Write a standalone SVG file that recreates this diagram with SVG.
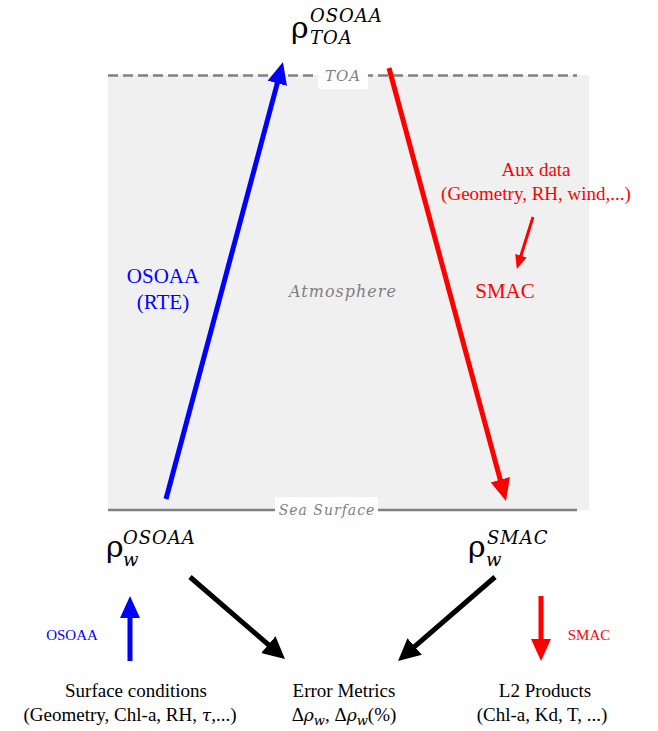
<svg xmlns="http://www.w3.org/2000/svg" width="658" height="731" viewBox="0 0 658 731">
<style>
text{font-family:"Liberation Serif","Times New Roman",serif;}
.lbl{font-size:19px;fill:#000;text-anchor:middle;}
.it{font-family:"DejaVu Serif",serif;font-style:italic;}
.gray{font-family:"DejaVu Serif",serif;fill:#808080;font-style:italic;text-anchor:middle;letter-spacing:1px;}
.blue{fill:#0000ff;}
.red{fill:#ff0000;}
.rho{font-family:"DejaVu Serif",serif;font-size:30px;fill:#000;}
.sup{font-family:"DejaVu Serif",serif;font-size:18px;font-style:italic;fill:#000;letter-spacing:1px;}
.ab{stroke:#0000ff;stroke-width:5;fill:none;}
.ar{stroke:#ff0000;stroke-width:5;fill:none;}
.ak{stroke:#000;stroke-width:5;fill:none;}
</style>
<defs>
<marker id="hb" markerUnits="userSpaceOnUse" viewBox="0 0 22 20" markerWidth="22" markerHeight="20" refX="12" refY="10" orient="auto"><path d="M0,0 L22,10 L0,20 z" fill="#0000ff"/></marker>
<marker id="hr" markerUnits="userSpaceOnUse" viewBox="0 0 22 20" markerWidth="22" markerHeight="20" refX="12" refY="10" orient="auto"><path d="M0,0 L22,10 L0,20 z" fill="#ff0000"/></marker>
<marker id="hk" markerUnits="userSpaceOnUse" viewBox="0 0 22 22" markerWidth="22" markerHeight="22" refX="12" refY="11" orient="auto"><path d="M0,0 L22,11 L0,22 z" fill="#000"/></marker>
<marker id="hrs" markerUnits="userSpaceOnUse" viewBox="0 0 14 12" markerWidth="14" markerHeight="12" refX="8" refY="6" orient="auto"><path d="M0,0 L14,6 L0,12 z" fill="#ff0000"/></marker>
</defs>

<g id="atmosphere">
<rect x="108" y="75" width="481" height="435" fill="#f0f0f0"/>
<text class="gray" x="343" y="297" font-size="16">Atmosphere</text>
</g>
<g id="toa">
<line x1="108" y1="75.5" x2="577" y2="75.5" stroke="#808080" stroke-width="2.5" stroke-dasharray="10,5"/>
<rect x="318" y="65" width="50" height="24" fill="#fff"/>
<text class="gray" x="343" y="81" font-size="15">TOA</text>
</g>
<g id="sea-surface">
<line x1="108" y1="510" x2="577" y2="510" stroke="#808080" stroke-width="2.5"/>
<rect x="275" y="497" width="103" height="23" fill="#fff"/>
<text class="gray" x="327" y="515" font-size="14">Sea Surface</text>
</g>

<g id="rho-toa">
<text class="rho" x="291" y="38">ρ</text>
<text class="sup" x="310" y="22">OSOAA</text>
<text class="sup" x="310" y="44">TOA</text>
</g>
<g id="rho-w-osoaa">
<text class="rho" x="106" y="557">ρ</text>
<text class="sup" x="123" y="544">OSOAA</text>
<text class="sup" x="123" y="566">w</text>
</g>
<g id="rho-w-smac">
<text class="rho" x="468" y="557">ρ</text>
<text class="sup" x="487" y="544">SMAC</text>
<text class="sup" x="486" y="566">w</text>
</g>

<g id="osoaa-rte">
<text class="blue" x="163" y="283" font-size="21" text-anchor="middle">OSOAA</text>
<text class="blue" x="163" y="309" font-size="21" text-anchor="middle">(RTE)</text>
</g>
<g id="aux-data">
<text class="red" x="536" y="176" font-size="19" text-anchor="middle">Aux data</text>
<text class="red" x="536" y="200" font-size="19" text-anchor="middle">(Geometry, RH, wind,...)</text>
</g>
<g id="smac">
<text class="red" x="505" y="298" font-size="21" text-anchor="middle">SMAC</text>
</g>

<g id="surface-conditions">
<text class="lbl" x="136" y="697">Surface conditions</text>
<text class="lbl" x="130" y="721">(Geometry, Chl-a, RH, <tspan class="it" font-size="17">τ</tspan>,...)</text>
<text class="blue" x="72" y="640" font-size="15" text-anchor="middle">OSOAA</text>
</g>
<g id="error-metrics">
<text class="lbl" x="344" y="697">Error Metrics</text>
<text class="lbl" x="344" y="721">Δ<tspan class="it" font-size="17">ρ</tspan><tspan class="it" font-size="13" dy="4">w</tspan><tspan dy="-4">, Δ</tspan><tspan class="it" font-size="17">ρ</tspan><tspan class="it" font-size="13" dy="4">w</tspan><tspan dy="-4">(%)</tspan></text>
</g>
<g id="l2-products">
<text class="lbl" x="545" y="697">L2 Products</text>
<text class="lbl" x="542" y="721">(Chl-a, Kd, T, ...)</text>
<text class="red" x="589" y="640" font-size="15" text-anchor="middle">SMAC</text>
</g>

<g id="connectors">
<line class="ab" x1="166" y1="499" x2="280.4" y2="71.7" marker-end="url(#hb)"/>
<line class="ar" x1="389" y1="68" x2="503.4" y2="491.3" marker-end="url(#hr)"/>
<line x1="533" y1="217" x2="518.6" y2="263.3" stroke="#ff0000" stroke-width="3" marker-end="url(#hrs)"/>
<line class="ak" x1="190" y1="577" x2="277.4" y2="652.5" marker-end="url(#hk)"/>
<line class="ak" x1="495" y1="577" x2="405.6" y2="654.4" marker-end="url(#hk)"/>
<line class="ab" x1="130" y1="661" x2="130" y2="606" marker-end="url(#hb)"/>
<line class="ar" x1="541" y1="596" x2="541" y2="651" marker-end="url(#hr)"/>
</g>
</svg>
